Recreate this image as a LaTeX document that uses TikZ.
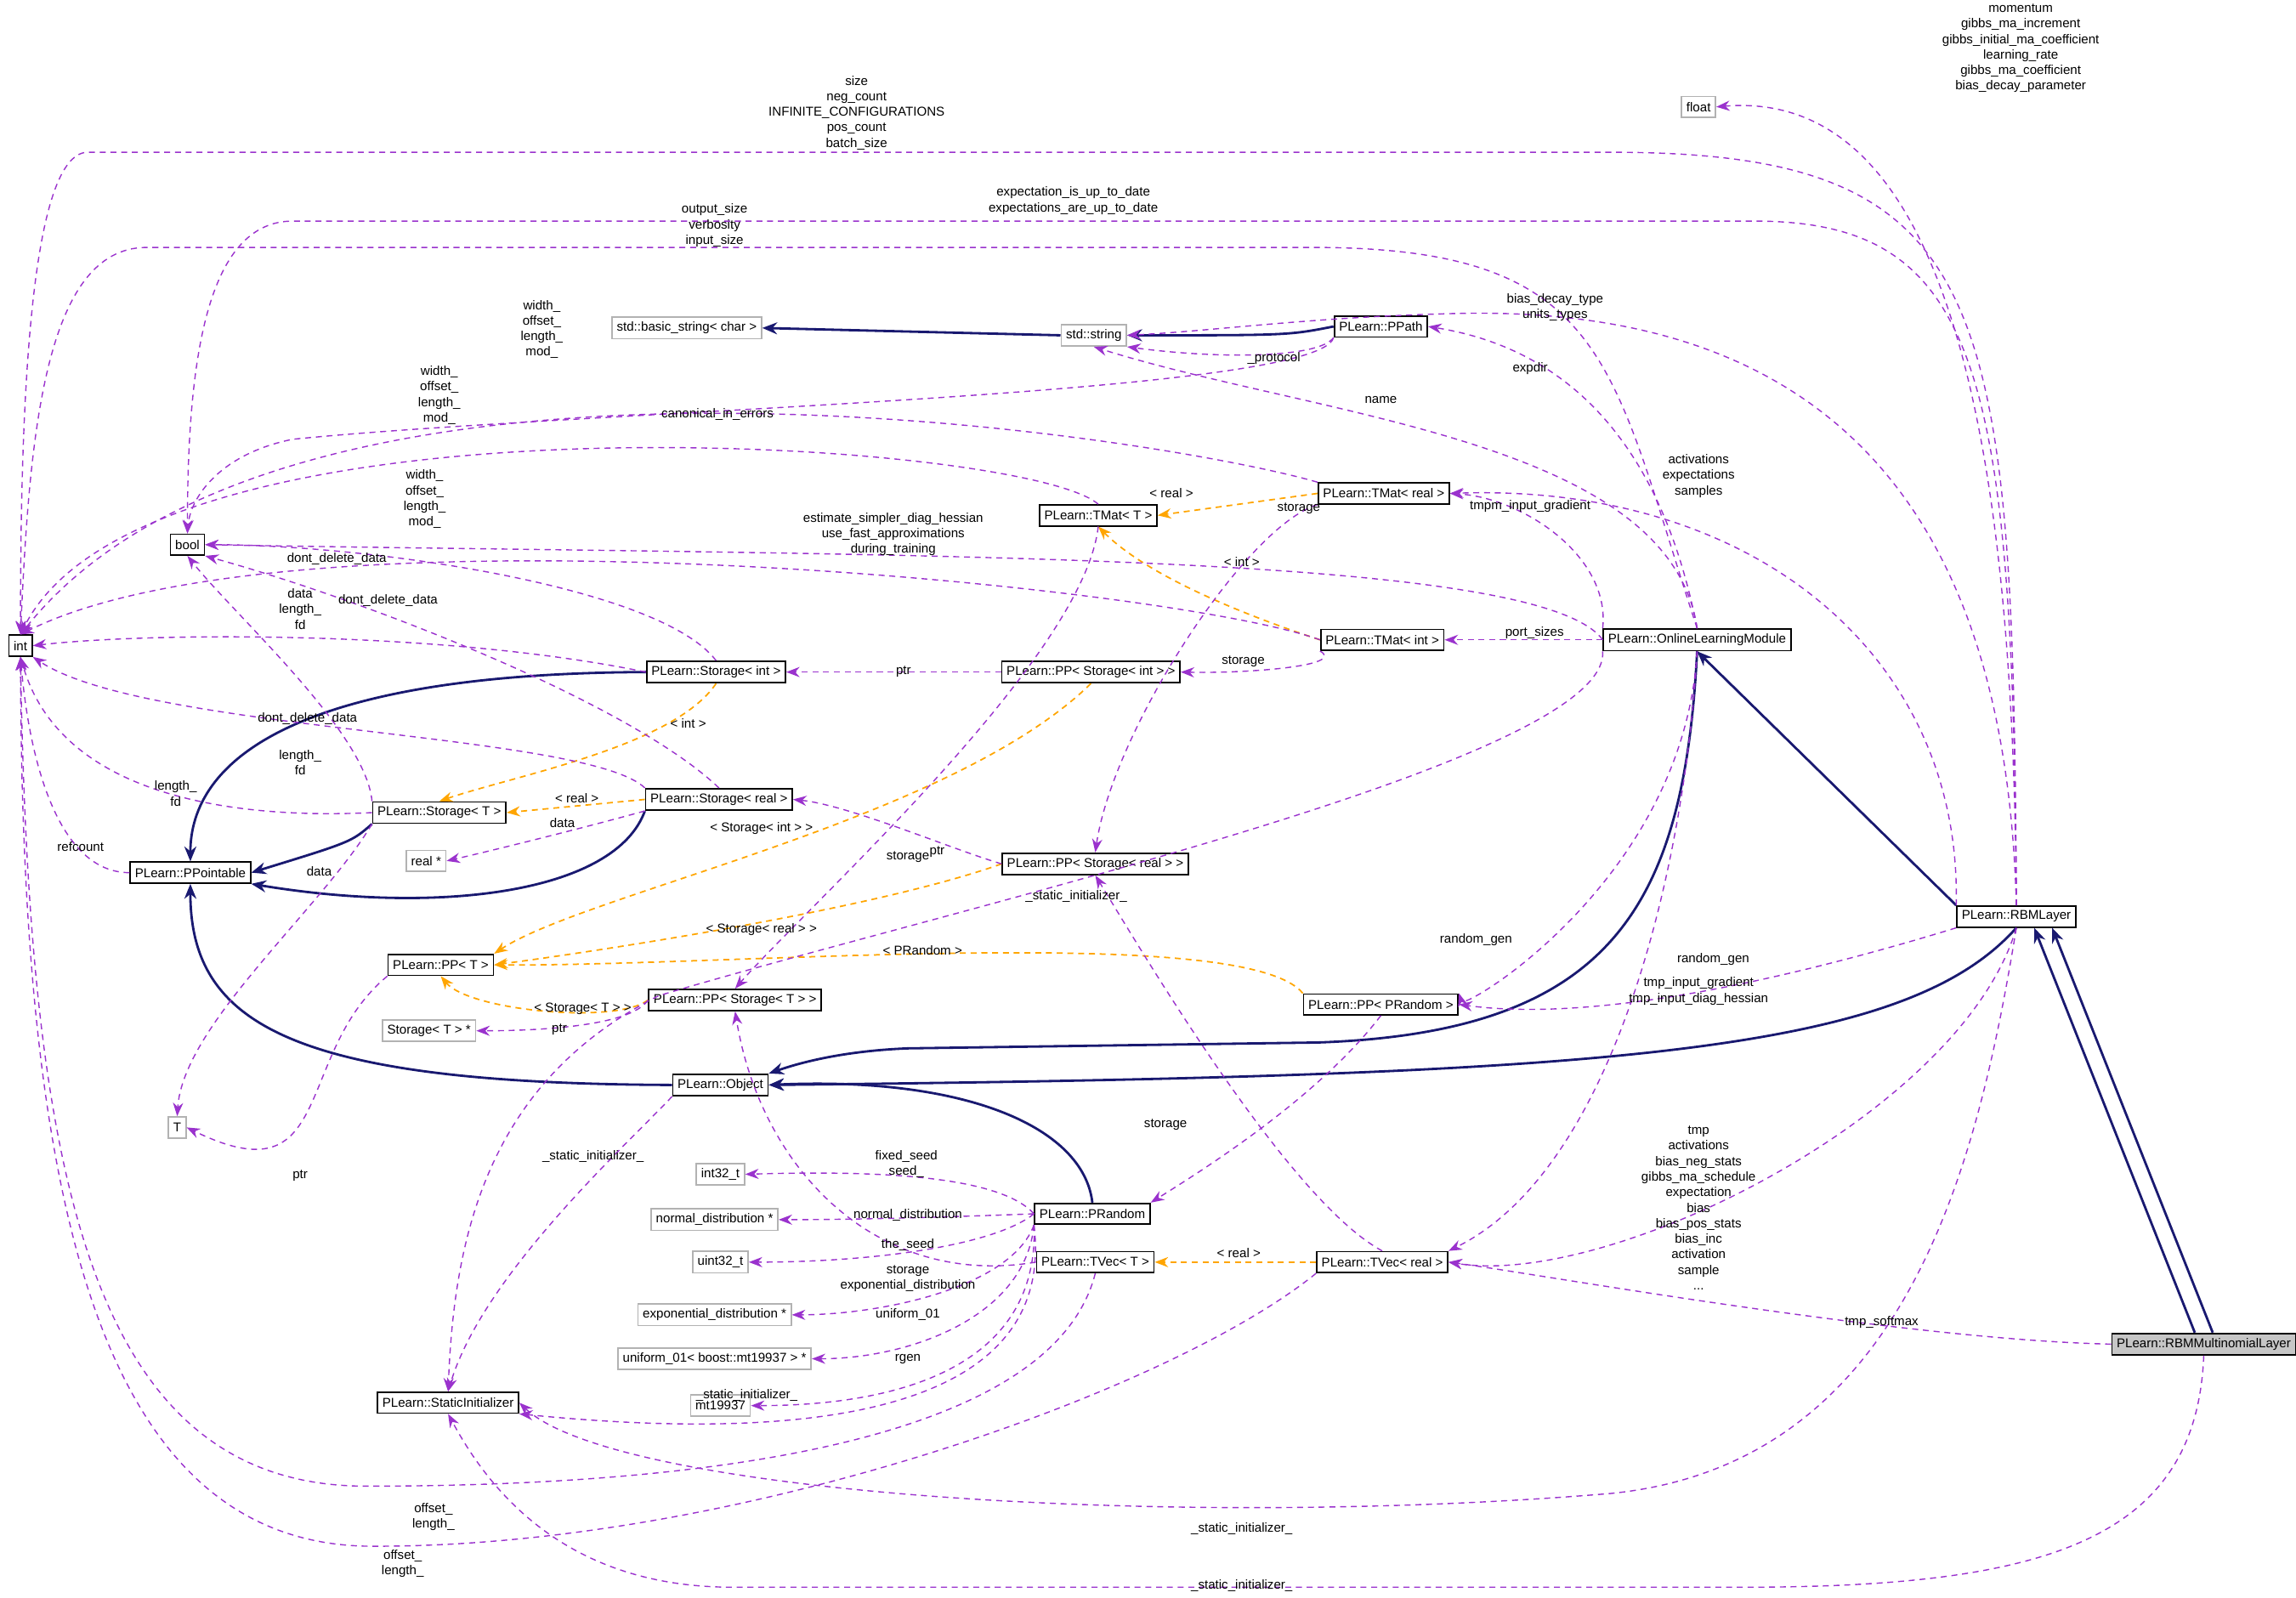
\documentclass[tikz,border=0pt]{standalone}
\usepackage{fontspec}
\setmainfont{Liberation Sans}
\usetikzlibrary{arrows.meta}
\definecolor{usecol}{HTML}{9A32CD}
\definecolor{inhcol}{HTML}{191970}
\definecolor{tplcol}{HTML}{FFA500}
\tikzset{
    cls/.style={
        rectangle,
        draw=black,
        line width=0.5pt,
        fill=white,
        inner sep=1.6pt,
        minimum height=7pt,
        font=\fontsize{4.3}{5.2}\selectfont
    },
    ext/.style={
        cls,
        draw=gray!60
    },
    use/.style={
        -{Stealth[length=4.5pt,width=3.4pt]},
        draw=usecol,
        line width=0.4pt,
        dash pattern=on 2pt off 1.6pt
    },
    inh/.style={
        -{Stealth[length=5pt,width=4pt]},
        draw=inhcol,
        line width=0.8pt
    },
    tpl/.style={
        -{Stealth[length=4.5pt,width=3.4pt]},
        draw=tplcol,
        line width=0.5pt,
        dash pattern=on 2pt off 1.6pt
    },
    lbl/.style={
        align=center,
        inner sep=0pt,
        font=\fontsize{4.3}{5.2}\selectfont
    }
}
\begin{document}
\begin{tikzpicture}[x=0.017226cm, y=-0.017226cm]

    \useasboundingbox (0,0) rectangle (1568,1091);

    % Classes
    \node[ext] (float) at (1160,73) {float};
    \node[cls] (int) at (14,441) {int};
    \node[cls] (bool) at (128,372) {bool};
    \node[ext] (basicstr) at (469,224) {std::basic\_string< char >};
    \node[ext] (stdstr) at (747,229) {std::string};
    \node[cls] (ppath) at (943,223) {PLearn::PPath};
    \node[cls] (tmatr) at (945,337) {PLearn::TMat< real >};
    \node[cls] (tmatt) at (750,352) {PLearn::TMat< T >};
    \node[cls] (tmati) at (944,437) {PLearn::TMat< int >};
    \node[cls] (olm) at (1159,437) {PLearn::OnlineLearningModule};
    \node[cls] (sti) at (489,459) {PLearn::Storage< int >};
    \node[cls] (ppsi) at (745,459) {PLearn::PP< Storage< int > >};
    \node[cls] (stt) at (300,555) {PLearn::Storage< T >};
    \node[cls] (str) at (491,546) {PLearn::Storage< real >};
    \node[ext] (realp) at (291,588) {real *};
    \node[cls] (ppointable) at (130,596) {PLearn::PPointable};
    \node[cls] (ppsr) at (748,590) {PLearn::PP< Storage< real > >};
    \node[cls] (ppt) at (301,659) {PLearn::PP< T >};
    \node[cls] (ppst) at (502,683) {PLearn::PP< Storage< T > >};
    \node[ext] (stp) at (293,704) {Storage< T > *};
    \node[cls] (pprandom) at (943,686) {PLearn::PP< PRandom >};
    \node[cls] (rbm) at (1377,626) {PLearn::RBMLayer};
    \node[cls] (object) at (492,741) {PLearn::Object};
    \node[ext] (tnode) at (121,770) {T};
    \node[ext] (int32) at (492,802) {int32\_t};
    \node[ext] (normal) at (488,833) {normal\_distribution *};
    \node[ext] (uint32) at (492,862) {uint32\_t};
    \node[cls] (prandom) at (746,829) {PLearn::PRandom};
    \node[cls] (tvect) at (748,862) {PLearn::TVec< T >};
    \node[cls] (tvecr) at (944,862) {PLearn::TVec< real >};
    \node[ext] (expo) at (488,898) {exponential\_distribution *};
    \node[ext] (unif) at (488,928) {uniform\_01< boost::mt19937 > *};
    \node[ext] (mt) at (492,960) {mt19937};
    \node[cls] (static) at (306,958) {PLearn::StaticInitializer};
    \node[cls, fill=gray!45] (mult) at (1505,918) {PLearn::RBMMultinomialLayer};

    % Inheritance
    \draw[inh] (stdstr.west) -- (basicstr.east);
    \draw[inh] (ppath.west) .. controls (880,229) .. (stdstr.east);
    \draw[inh] (sti.west) .. controls (200,460) and (130,520) .. (ppointable.north);
    \draw[inh] (stt.south west) .. controls (240,575) .. (ppointable.east);
    \draw[inh] (str.south west) .. controls (420,610) and (300,625) .. (ppointable.south east);
    \draw[inh] (object.west) .. controls (200,740) and (130,700) .. (ppointable.south);
    \draw[inh] (olm.south) .. controls (1150,620) and (1100,705) .. (900,712) -- (620,716) .. controls (570,718) and (540,728) .. (object.north east);
    \draw[inh] (rbm.north west) -- (olm.south);
    \draw[inh] (rbm.south) .. controls (1300,720) and (1100,735) .. (object.east);
    \draw[inh] (prandom.north) .. controls (740,770) and (660,735) .. (object.east);
    \draw[inh] ([xshift=-3pt]mult.north) -- ([xshift=6pt]rbm.south);
    \draw[inh] ([xshift=3pt]mult.north) -- ([xshift=12pt]rbm.south);

    % Template instances
    \draw[tpl] (tmatr.west) -- (tmatt.east);
    \draw[tpl] (tmati.west) .. controls (880,430) and (790,400) .. (tmatt.south);
    \draw[tpl] (sti.south) .. controls (460,510) and (350,530) .. (stt.north);
    \draw[tpl] (str.west) -- (stt.east);
    \draw[tpl] (ppsi.south) .. controls (650,560) and (400,610) .. (ppt.north east);
    \draw[tpl] (ppsr.west) .. controls (600,620) and (420,648) .. (ppt.east);
    \draw[tpl] (pprandom.north west) .. controls (850,630) and (500,660) .. (ppt.east);
    \draw[tpl] (ppst.west) .. controls (420,700) and (320,690) .. (ppt.south);
    \draw[tpl] (tvecr.west) -- (tvect.east);

    % Usage
    \draw[use] (rbm.north) .. controls (1375,300) and (1330,60) .. (float.east);
    \draw[use] (rbm.north) .. controls (1375,200) and (1360,104) .. (1100,104) -- (60,104) .. controls (18,104) and (14,300) .. (int.north);
    \draw[use] (rbm.north) .. controls (1375,250) and (1350,152) .. (1200,151) -- (200,151) .. controls (140,151) and (128,250) .. (bool.north);
    \draw[use] (rbm.north) .. controls (1370,350) and (1250,210) .. (1000,214) .. controls (900,216) and (830,226) .. (stdstr.east);
    \draw[use] (rbm.north west) .. controls (1340,450) and (1200,330) .. (tmatr.east);
    \draw[use] (rbm.south west) .. controls (1250,660) and (1100,700) .. (pprandom.east);
    \draw[use] (rbm.south) .. controls (1340,760) and (1100,880) .. (tvecr.east);
    \draw[use] (rbm.south) .. controls (1350,800) and (1300,1000) .. (1100,1020) .. controls (800,1045) and (420,1020) .. (static.east);
    \draw[use] (mult.west) .. controls (1300,915) and (1050,870) .. (tvecr.east);
    \draw[use] (mult.south) .. controls (1500,1050) and (1400,1083) .. (1200,1084) -- (500,1084) .. controls (380,1084) and (330,1010) .. (static.south);
    \draw[use] (olm.north) .. controls (1100,250) and (1100,170) .. (900,169) -- (100,169) .. controls (30,169) and (20,300) .. (int.north);
    \draw[use] (olm.west) .. controls (1050,375) and (600,380) .. (bool.east);
    \draw[use] (olm.north) .. controls (1140,300) and (900,285) .. (stdstr.south);
    \draw[use] (olm.north) .. controls (1130,280) and (1050,235) .. (ppath.east);
    \draw[use] (olm.north west) .. controls (1100,380) and (1040,340) .. (tmatr.east);
    \draw[use] (olm.west) -- (tmati.east);
    \draw[use] (olm.south) .. controls (1150,600) and (1000,690) .. (pprandom.north east);
    \draw[use] (olm.south) .. controls (1150,600) and (1100,800) .. (tvecr.north east);
    \draw[use] (olm.south west) .. controls (1100,520) and (650,620) .. (450,680) .. controls (330,740) and (310,850) .. (static.north);
    \draw[use] (ppath.south west) .. controls (900,245) and (830,245) .. (stdstr.south east);
    \draw[use] (ppath.south west) .. controls (900,270) and (400,280) .. (200,300) .. controls (150,310) and (130,340) .. (bool.north);
    \draw[use] (tmatr.north west) .. controls (800,300) and (200,200) .. (int.north);
    \draw[use] (tmatr.south west) .. controls (850,360) and (760,500) .. (ppsr.north);
    \draw[use] (tmatt.north) .. controls (700,300) and (100,260) .. (int.north);
    \draw[use] (tmatt.south) .. controls (740,450) and (550,620) .. (ppst.north);
    \draw[use] (tmati.west) .. controls (800,400) and (200,340) .. (int.north);
    \draw[use] (tmati.south west) .. controls (920,455) and (850,460) .. (ppsi.east);
    \draw[use] (sti.west) .. controls (300,430) and (100,432) .. (int.east);
    \draw[use] (sti.north) .. controls (450,400) and (250,372) .. (bool.east);
    \draw[use] (str.north) .. controls (430,480) and (250,410) .. (bool.south east);
    \draw[use] (str.north west) .. controls (400,500) and (100,500) .. (int.south east);
    \draw[use] (str.south west) .. controls (400,565) and (340,580) .. (realp.east);
    \draw[use] (stt.west) .. controls (150,560) and (40,540) .. (int.south);
    \draw[use] (stt.north west) .. controls (250,500) and (160,420) .. (bool.south);
    \draw[use] (stt.south west) .. controls (220,620) and (125,700) .. (tnode.north);
    \draw[use] (ppsi.west) -- (sti.east);
    \draw[use] (ppsr.west) .. controls (650,580) and (580,550) .. (str.east);
    \draw[use] (ppst.west) .. controls (430,702) and (360,704) .. (stp.east);
    \draw[use] (ppt.south west) .. controls (200,720) and (230,820) .. (tnode.east);
    \draw[use] (ppointable.west) .. controls (40,596) and (20,520) .. (int.south);
    \draw[use] (object.south west) .. controls (430,780) and (330,870) .. (static.north);
    \draw[use] (prandom.west) .. controls (680,800) and (580,800) .. (int32.east);
    \draw[use] (prandom.west) .. controls (680,830) and (600,833) .. (normal.east);
    \draw[use] (prandom.west) .. controls (680,850) and (600,862) .. (uint32.east);
    \draw[use] (prandom.south west) .. controls (690,880) and (600,898) .. (expo.east);
    \draw[use] (prandom.south west) .. controls (700,900) and (620,928) .. (unif.east);
    \draw[use] (prandom.south west) .. controls (710,930) and (620,960) .. (mt.east);
    \draw[use] (prandom.south west) .. controls (725,990) and (480,978) .. (static.south east);
    \draw[use] (pprandom.south) .. controls (900,750) and (820,800) .. (prandom.north east);
    \draw[use] (tvect.south) .. controls (720,980) and (500,1015) .. (250,1015) .. controls (60,1015) and (20,800) .. (int.south);
    \draw[use] (tvect.west) .. controls (600,880) and (520,800) .. (ppst.south);
    \draw[use] (tvecr.south west) .. controls (800,950) and (500,1058) .. (250,1056) .. controls (60,1052) and (15,800) .. (int.south);
    \draw[use] (tvecr.north) .. controls (880,820) and (780,650) .. (ppsr.south);

    % Labels
    \node[lbl] (l1) at (1380,33) {momentum\\gibbs\_ma\_increment\\gibbs\_initial\_ma\_coefficient\\learning\_rate\\gibbs\_ma\_coefficient\\bias\_decay\_parameter};
    \node[lbl] (l2) at (585,77) {size\\neg\_count\\INFINITE\_CONFIGURATIONS\\pos\_count\\batch\_size};
    \node[lbl] (l3) at (733,137) {expectation\_is\_up\_to\_date\\expectations\_are\_up\_to\_date};
    \node[lbl] (l4) at (1062,210) {bias\_decay\_type\\units\_types};
    \node[lbl] (l5) at (1160,325) {activations\\expectations\\samples};
    \node[lbl] (l6) at (1170,655) {random\_gen};
    \node[lbl] (l7) at (1160,825) {tmp\\activations\\bias\_neg\_stats\\gibbs\_ma\_schedule\\expectation\\bias\\bias\_pos\_stats\\bias\_inc\\activation\\sample\\...};
    \node[lbl] (l8) at (848,1044) {\_static\_initializer\_};
    \node[lbl] (l9) at (1285,903) {tmp\_softmax};
    \node[lbl] (l10) at (848,1083) {\_static\_initializer\_};
    \node[lbl] (l11) at (488,154) {output\_size\\verbosity\\input\_size};
    \node[lbl] (l12) at (610,365) {estimate\_simpler\_diag\_hessian\\use\_fast\_approximations\\during\_training};
    \node[lbl] (l13) at (943,273) {name};
    \node[lbl] (l14) at (1045,252) {expdir};
    \node[lbl] (l15) at (1045,346) {tmpm\_input\_gradient};
    \node[lbl] (l16) at (1048,432) {port\_sizes};
    \node[lbl] (l17) at (1008,642) {random\_gen};
    \node[lbl] (l18) at (1160,677) {tmp\_input\_gradient\\tmp\_input\_diag\_hessian};
    \node[lbl] (l19) at (735,612) {\_static\_initializer\_};
    \node[lbl] (l20) at (870,245) {\_protocol};
    \node[lbl] (l21) at (490,283) {canonical\_in\_errors};
    \node[lbl] (l22) at (370,225) {width\_\\offset\_\\length\_\\mod\_};
    \node[lbl] (l23) at (887,347) {storage};
    \node[lbl] (l24) at (300,270) {width\_\\offset\_\\length\_\\mod\_};
    \node[lbl] (l25) at (620,585) {storage};
    \node[lbl] (l26) at (290,341) {width\_\\offset\_\\length\_\\mod\_};
    \node[lbl] (l27) at (849,452) {storage};
    \node[lbl] (l28) at (205,416) {data\\length\_\\fd};
    \node[lbl] (l29) at (230,382) {dont\_delete\_data};
    \node[lbl] (l30) at (265,410) {dont\_delete\_data};
    \node[lbl] (l31) at (205,521) {length\_\\fd};
    \node[lbl] (l32) at (384,562) {data};
    \node[lbl] (l33) at (120,542) {length\_\\fd};
    \node[lbl] (l34) at (210,491) {dont\_delete\_data};
    \node[lbl] (l35) at (218,595) {data};
    \node[lbl] (l36) at (617,459) {ptr};
    \node[lbl] (l37) at (640,582) {ptr};
    \node[lbl] (l38) at (382,703) {ptr};
    \node[lbl] (l39) at (205,803) {ptr};
    \node[lbl] (l40) at (55,578) {refcount};
    \node[lbl] (l41) at (405,790) {\_static\_initializer\_};
    \node[lbl] (l42) at (619,795) {fixed\_seed\\seed\_};
    \node[lbl] (l43) at (620,830) {normal\_distribution};
    \node[lbl] (l44) at (620,850) {the\_seed};
    \node[lbl] (l45) at (620,878) {exponential\_distribution};
    \node[lbl] (l46) at (620,898) {uniform\_01};
    \node[lbl] (l47) at (620,928) {rgen};
    \node[lbl] (l48) at (510,953) {\_static\_initializer\_};
    \node[lbl] (l49) at (796,768) {storage};
    \node[lbl] (l50) at (296,1036) {offset\_\\length\_};
    \node[lbl] (l51) at (620,868) {storage};
    \node[lbl] (l52) at (275,1068) {offset\_\\length\_};
    \node[lbl] (t1) at (800,337) {< real >};
    \node[lbl] (t2) at (848,384) {< int >};
    \node[lbl] (t3) at (470,494) {< int >};
    \node[lbl] (t4) at (394,545) {< real >};
    \node[lbl] (t5) at (520,566) {< Storage< int > >};
    \node[lbl] (t6) at (520,635) {< Storage< real > >};
    \node[lbl] (t7) at (630,649) {< PRandom >};
    \node[lbl] (t8) at (398,689) {< Storage< T > >};
    \node[lbl] (t9) at (846,856) {< real >};

\end{tikzpicture}
\end{document}
